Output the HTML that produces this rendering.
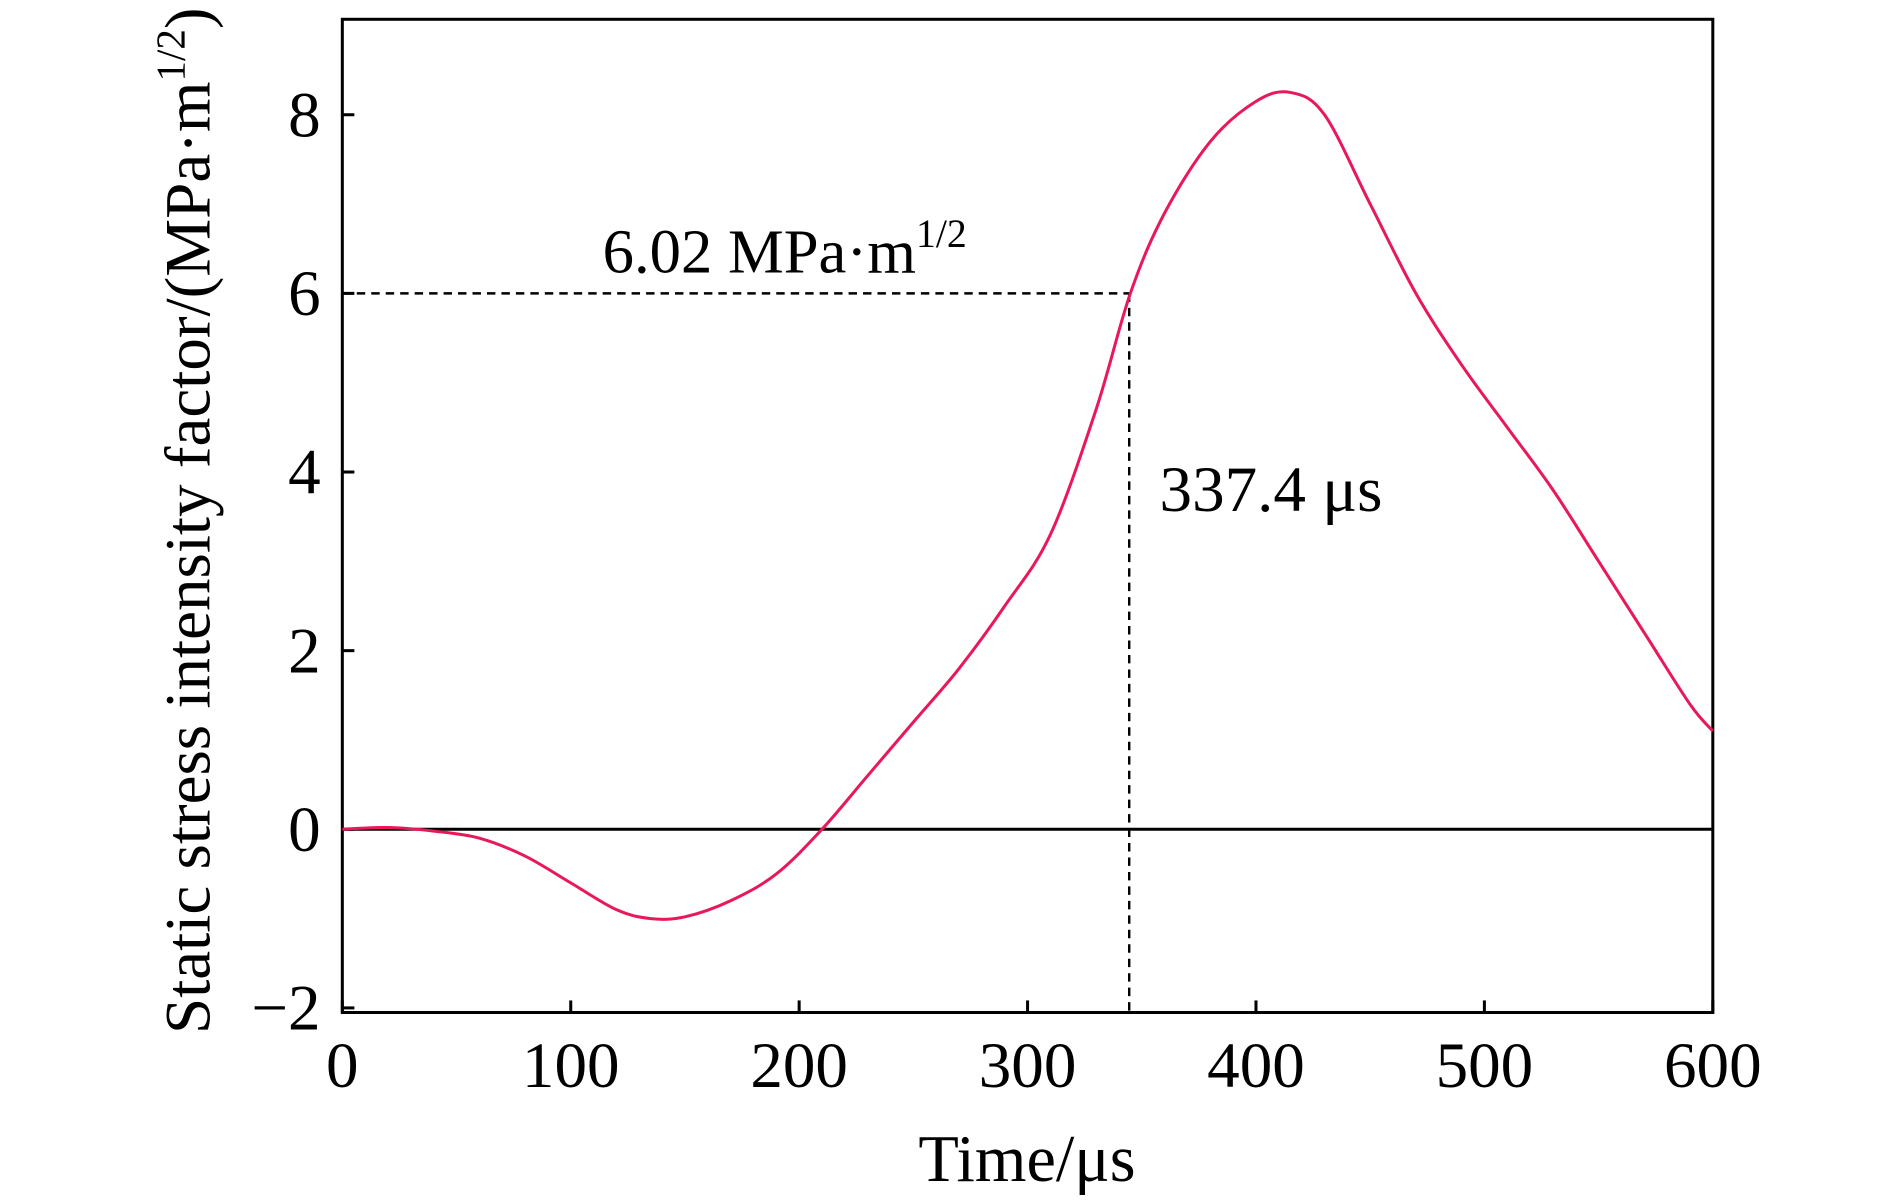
<!DOCTYPE html>
<html><head><meta charset="utf-8"><style>
html,body{margin:0;padding:0;background:#fff;}
svg{display:block;font-family:"Liberation Serif",serif;}
</style></head><body>
<svg id="chart" width="1890" height="1200" viewBox="0 0 1568 995.56" preserveAspectRatio="none" xmlns="http://www.w3.org/2000/svg"></svg>
<script>
const times=[0,20,40,60,80,100,120,135,150,170,190,210,230,250,270,290,310,330,345,360,380,400,415,430,450,470,490,510,530,550,570,590,600];
const kValues=[0,0.02,-0.02,-0.1,-0.3,-0.6,-0.9,-1.0,-0.98,-0.8,-0.5,0,0.6,1.2,1.8,2.5,3.3,4.7,6.0,6.9,7.7,8.15,8.25,8.0,7.0,6.0,5.2,4.5,3.8,3.0,2.2,1.4,1.1];
const xTicks=[0,100,200,300,400,500,600];
const yTicks=[-2,0,2,4,6,8];
const markK=6;
const markT=344.5;
const NS="http://www.w3.org/2000/svg";
const svg=document.getElementById('chart');
const L=284,R=1421,T=16,B=840;
const xs=t=>L+(t-0)/600*(R-L);
const ys=k=>688-k*74.1;
function el(tag,attrs,parent){const e=document.createElementNS(NS,tag);for(const k in attrs)e.setAttribute(k,attrs[k]);(parent||svg).appendChild(e);return e;}
const frame=el('rect',{x:L,y:T,width:R-L,height:B-T,fill:'none',stroke:'#000','stroke-width':2.5});


const zl=el('line',{x1:L,x2:R,y1:ys(0),y2:ys(0),stroke:'#000','stroke-width':2.5});


xTicks.forEach(t=>{
 const tk=el('line',{x1:xs(t),x2:xs(t),y1:B,y2:B-10,stroke:'#000','stroke-width':2.5});
 
 
 const tx=el('text',{x:xs(t),y:902,'text-anchor':'middle','font-size':54});
 tx.textContent=t;
 
 
});
yTicks.forEach(k=>{
 const tk=el('line',{x1:L,x2:L+10,y1:ys(k),y2:ys(k),stroke:'#000','stroke-width':2.5});
 
 
 const tx=el('text',{x:266,y:ys(k)+18,'text-anchor':'end','font-size':54});
 tx.textContent=k<0?'\u2212'+(-k):k;
 
 
});
const dh=el('line',{x1:L,x2:xs(markT),y1:ys(markK),y2:ys(markK),stroke:'#000','stroke-width':2,'stroke-dasharray':'7,5'});


const dv=el('line',{x1:xs(markT),x2:xs(markT),y1:ys(markK),y2:B,stroke:'#000','stroke-width':2,'stroke-dasharray':'7,5'});


const pts=times.map((t,i)=>[xs(t),ys(kValues[i])]);
let d='M'+pts[0][0]+','+pts[0][1];
for(let i=0;i<pts.length-1;i++){
 const p0=pts[Math.max(0,i-1)],p1=pts[i],p2=pts[i+1],p3=pts[Math.min(pts.length-1,i+2)];
 const c1=[p1[0]+(p2[0]-p0[0])/6,p1[1]+(p2[1]-p0[1])/6];
 const c2=[p2[0]-(p3[0]-p1[0])/6,p2[1]-(p3[1]-p1[1])/6];
 d+=` C${c1[0]},${c1[1]} ${c2[0]},${c2[1]} ${p2[0]},${p2[1]}`;
}
const curve=el('path',{d:d,fill:'none',stroke:'#e8185a','stroke-width':2.5});


</script>
<script>
(function(){
const svg=document.getElementById('chart');
svg.insertAdjacentHTML('beforeend',`
<text x="500" y="226" font-size="52">6.02 MPa·m<tspan font-size="33" dy="-21">1/2</tspan></text>
<text x="962" y="424" font-size="54">337.4 μs</text>
<text x="852" y="980" font-size="55" text-anchor="middle">Time/μs</text>
<text transform="translate(174,432) rotate(-90)" font-size="54" text-anchor="middle">Static stress intensity factor/(MPa·m<tspan font-size="34" dy="-21">1/2</tspan><tspan dy="21">)</tspan></text>
`);
})();
</script>
</body></html>
